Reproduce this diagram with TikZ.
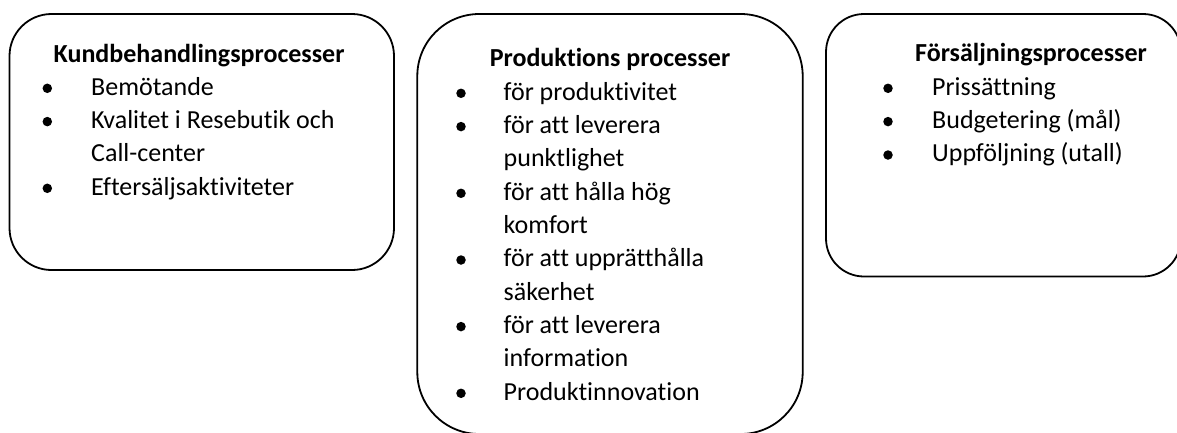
\documentclass[tikz,border=0pt]{standalone}
\usepackage{fontspec}
\setmainfont{Carlito}[Ligatures=NoCommon]
\begin{document}
\begin{tikzpicture}[x=1pt,y=-1pt,
  procbox/.style={draw, line width=1.8pt, rectangle, inner sep=0pt},
  head/.style={anchor=base, inner sep=0pt, font=\fontsize{26}{33}\selectfont\bfseries},
  item/.style={anchor=base west, inner sep=0pt, font=\fontsize{26}{33}\selectfont},
  dot/.style={circle, fill, inner sep=0pt, minimum size=9.5pt}]
\useasboundingbox (0,0) rectangle (1177,432);
\clip (0,0) rectangle (1177,432);

% the three process boxes
\node[procbox, rounded corners=42pt, minimum width=384.5pt, minimum height=256pt] (kund) at (201.75,142) {};
\node[procbox, rounded corners=62pt, minimum width=385.4pt, minimum height=420pt] (prod) at (610,224) {};
\node[procbox, rounded corners=38pt, minimum width=355pt, minimum height=262.5pt] (fors) at (1003.5,145.25) {};

% customer handling
\node[head] (kundT) at (199,62) {Kundbehandlingsprocesser};
\node[dot] (kd1) at (47.3,88.3) {};
\node[item] (k1) at (91,95) {Bemötande};
\node[dot] (kd2) at (47.3,121.6) {};
\node[item] (k2) at (91,128.3) {Kvalitet i Resebutik och};
\node[item] (k2b) at (91,161.6) {Call-center};
\node[dot] (kd3) at (47.3,188.3) {};
\node[item] (k3) at (91,195) {Eftersäljsaktiviteter};

% production
\node[head] (prodT) at (610,66.7) {Produktions processer};
\node[dot] (pd1) at (461,93.3) {};
\node[item] (p1) at (503.5,100) {för produktivitet};
\node[dot] (pd2) at (461,126.6) {};
\node[item] (p2) at (503.5,133.3) {för att leverera};
\node[item] (p2b) at (503.5,166.6) {punktlighet};
\node[dot] (pd3) at (461,193.3) {};
\node[item] (p3) at (503.5,200) {för att hålla hög};
\node[item] (p3b) at (503.5,233.3) {komfort};
\node[dot] (pd4) at (461,260) {};
\node[item] (p4) at (503.5,266.7) {för att upprätthålla};
\node[item] (p4b) at (503.5,300) {säkerhet};
\node[dot] (pd5) at (461,326.6) {};
\node[item] (p5) at (503.5,333.3) {för att leverera};
\node[item] (p5b) at (503.5,366.6) {information};
\node[dot] (pd6) at (461,393.3) {};
\node[item] (p6) at (503.5,400) {Produktinnovation};

% sales
\node[head] (forsT) at (1031,61.7) {Försäljningsprocesser};
\node[dot] (fd1) at (888,88.3) {};
\node[item] (f1) at (932,95) {Prissättning};
\node[dot] (fd2) at (888,121.6) {};
\node[item] (f2) at (932,128.3) {Budgetering (mål)};
\node[dot] (fd3) at (888,155) {};
\node[item] (f3) at (932,161.7) {Uppföljning (utall)};
\end{tikzpicture}
\end{document}
